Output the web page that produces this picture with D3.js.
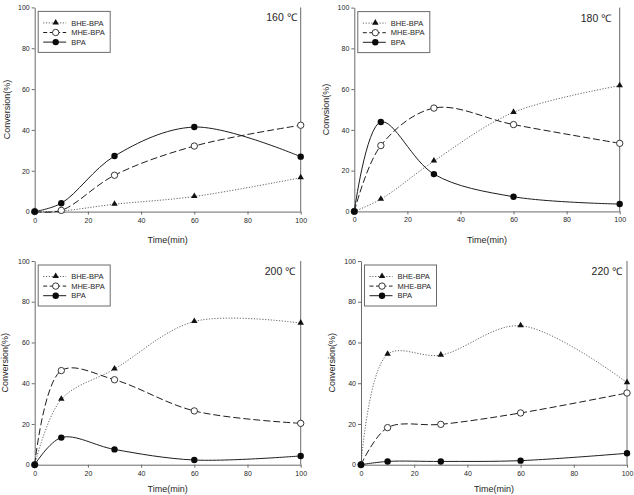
<!DOCTYPE html>
<html>
<head>
<meta charset="utf-8">
<script src="https://cdn.jsdelivr.net/npm/d3@7"></script>
<style>
  body { margin: 0; background: #fff; }
  text { font-family: Arial, "Liberation Sans", sans-serif; fill: #262626; }
</style>
</head>
<body>
<div id="canvas"></div>
<script>
//shared x values (min)
var times = [0, 10, 30, 60, 100];
var xTicks = [0, 20, 40, 60, 80, 100];
var yTicks = [0, 20, 40, 60, 80, 100];
var seriesNames = ['BHE-BPA', 'MHE-BPA', 'BPA'];
var panelTitles = ['160 \u2103', '180 \u2103', '200 \u2103', '220 \u2103'];
var yTitles = ['Conversion(%)', 'Convsion(%)', 'Conversion(%)', 'Conversion(%)'];

//conversion values
var bhe160 = [0, 0.3, 3.6, 7.4, 16.6];
var mhe160 = [0, 0.6, 17.8, 32.1, 42.3];
var bpa160 = [0, 4.1, 27.2, 41.4, 26.9];

var bhe180 = [0, 6.0, 24.7, 48.6, 61.7];
var mhe180 = [0, 32.3, 50.7, 42.6, 33.4];
var bpa180 = [0, 43.9, 18.3, 7.2, 3.6];

var bhe200 = [0, 32.1, 47.0, 70.3, 69.5];
var mhe200 = [0, 46.2, 41.7, 26.4, 20.3];
var bpa200 = [0, 13.3, 7.5, 2.3, 4.3];

var bhe220 = [0, 54.2, 53.8, 68.2, 40.3];
var mhe220 = [0, 18.2, 19.8, 25.4, 35.2];
var bpa220 = [0, 1.6, 1.6, 2.0, 5.6];

var panelData = [
  [bhe160, mhe160, bpa160],
  [bhe180, mhe180, bpa180],
  [bhe200, mhe200, bpa200],
  [bhe220, mhe220, bpa220]
];

//panel frames in page pixels
var panels = [
  {l: 34.7, r: 300.7, t: 7.4, b: 211.6, ylx: 9.5, xly: 242.5, tr: 4},
  {l: 354.3, r: 619.7, t: 7.6, b: 211.4, ylx: 328.5, xly: 242.5, tr: 8.5},
  {l: 34.7, r: 300.7, t: 261, b: 464.7, ylx: 8, xly: 492, tr: 5.5},
  {l: 361, r: 627, t: 261, b: 464.7, ylx: 334.5, xly: 492, tr: 5}
];

var axisColor = '#6b6b6b';
var lineColor = '#1e1e1e';
var dashes = ['1.2,1.6', '7,3', null];
var dashColors = ['#555', lineColor, lineColor];

var svg = d3.select('#canvas').append('svg')
  .attr('width', 634)
  .attr('height', 495);

function drawMarker(g, kind, x, y) {
  if (kind === 0) {
    g.append('path')
      .attr('d', d3.symbol().type(d3.symbolTriangle).size(18)())
      .attr('transform', 'translate(' + x + ',' + (y - 0.3) + ')')
      .attr('fill', '#111');
  } else if (kind === 1) {
    g.append('circle')
      .attr('cx', x).attr('cy', y).attr('r', 3.2)
      .attr('fill', '#fff')
      .attr('stroke', '#222')
      .attr('stroke-width', 0.9);
  } else {
    g.append('circle')
      .attr('cx', x).attr('cy', y).attr('r', 3.2)
      .attr('fill', '#0a0a0a');
  }
}

panels.forEach(function(p, i) {
  var g = svg.append('g');

  var x = d3.scaleLinear().domain([0, 100]).range([p.l, p.r]);
  var y = d3.scaleLinear().domain([0, 100]).range([p.b, p.t]);

  //axes
  var xAxis = g.append('g')
    .attr('transform', 'translate(0,' + p.b + ')')
    .call(d3.axisBottom(x).tickValues(xTicks).tickSize(3).tickPadding(3).tickSizeOuter(0));
  var yAxis = g.append('g')
    .attr('transform', 'translate(' + p.l + ',0)')
    .call(d3.axisLeft(y).tickValues(yTicks).tickSize(3).tickPadding(2).tickSizeOuter(0));
  [xAxis, yAxis].forEach(function(a) {
    a.selectAll('path, line').attr('stroke', axisColor).attr('stroke-width', 1);
    a.selectAll('text').attr('font-size', 7).attr('fill', '#333');
  });

  //right frame edge
  g.append('line')
    .attr('x1', p.r).attr('x2', p.r)
    .attr('y1', p.t).attr('y2', p.b)
    .attr('stroke', axisColor).attr('stroke-width', 1);

  //axis titles
  g.append('text')
    .attr('x', (p.l + p.r) / 2)
    .attr('y', p.xly)
    .attr('text-anchor', 'middle')
    .attr('font-size', 9)
    .text('Time(min)');
  g.append('text')
    .attr('transform', 'translate(' + p.ylx + ',' + ((p.t + p.b) / 2) + ') rotate(-90)')
    .attr('text-anchor', 'middle')
    .attr('font-size', 9)
    .text(yTitles[i]);

  //temperature label
  g.append('text')
    .attr('x', p.r - p.tr)
    .attr('y', p.t + 14)
    .attr('text-anchor', 'end')
    .attr('font-size', 10.5)
    .text(panelTitles[i]);

  //series curves
  var line = d3.line()
    .x(function(d, j) { return x(times[j]); })
    .y(function(d) { return y(d); })
    .curve(d3.curveCatmullRom.alpha(0.5));

  panelData[i].forEach(function(vals, s) {
    g.append('path')
      .attr('d', line(vals))
      .attr('fill', 'none')
      .attr('stroke', dashColors[s])
      .attr('stroke-width', s === 0 ? 0.9 : 1)
      .attr('stroke-dasharray', dashes[s]);
  });
  panelData[i].forEach(function(vals, s) {
    vals.forEach(function(v, j) {
      drawMarker(g, s, x(times[j]), y(v));
    });
  });

  //legend
  var lx = p.l + 3.5, ly = p.t + 4;
  var leg = g.append('g');
  leg.append('rect')
    .attr('x', lx).attr('y', ly)
    .attr('width', 72).attr('height', 41)
    .attr('fill', '#fff')
    .attr('stroke', axisColor).attr('stroke-width', 1);
  seriesNames.forEach(function(name, s) {
    var ry = ly + 11.5 + s * 9.6;
    leg.append('line')
      .attr('x1', lx + 5).attr('x2', lx + 28)
      .attr('y1', ry).attr('y2', ry)
      .attr('stroke', dashColors[s])
      .attr('stroke-width', s === 0 ? 0.9 : 1)
      .attr('stroke-dasharray', s === 1 ? '4,2.5' : dashes[s]);
    drawMarker(leg, s, lx + 17.5, ry);
    leg.append('text')
      .attr('x', lx + 33)
      .attr('y', ry + 2.6)
      .attr('font-size', 7.5)
      .text(name);
  });
});
</script>
</body>
</html>
